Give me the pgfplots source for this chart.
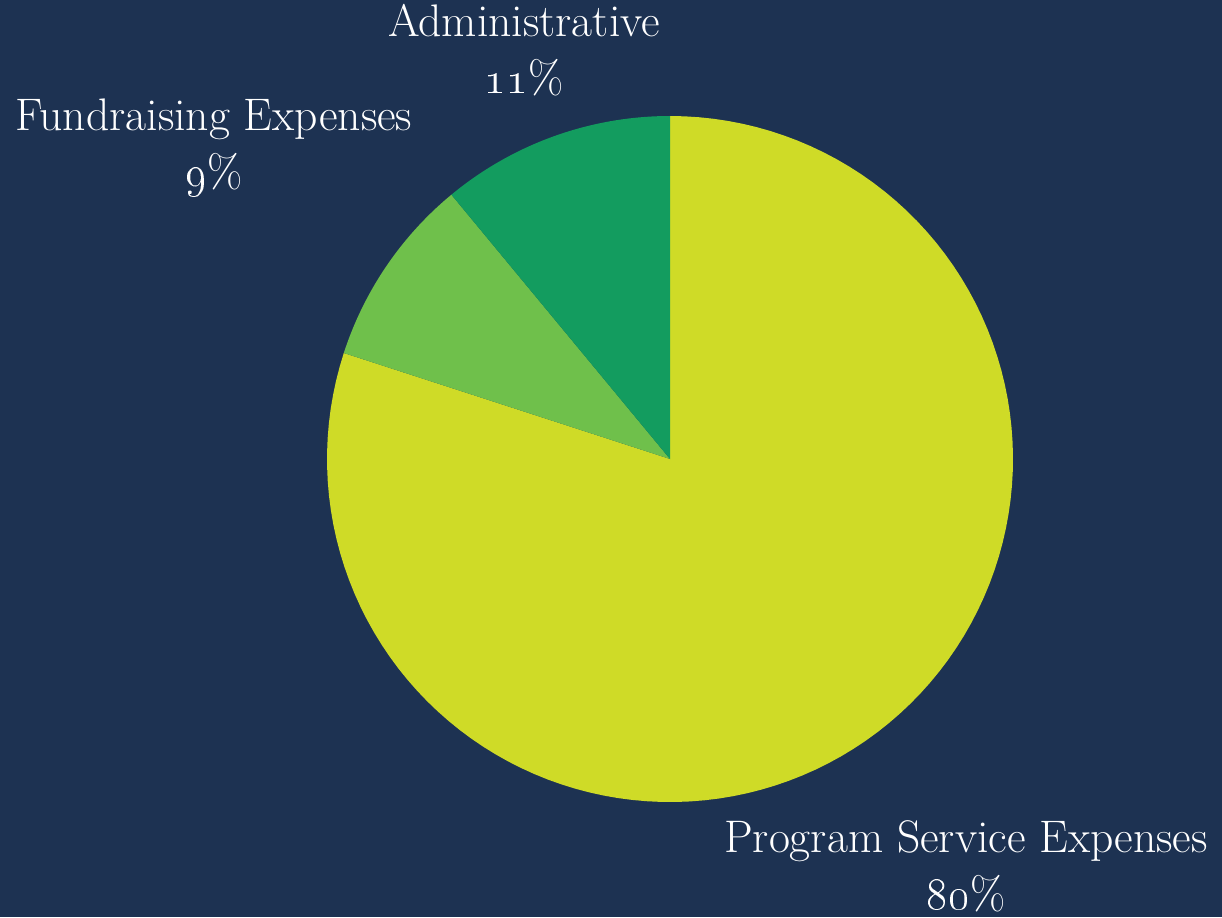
\documentclass[border=0pt]{standalone}
\usepackage{pgfplots}
\pgfplotsset{compat=1.18}

\definecolor{bgnavy}{HTML}{1D3252}
\definecolor{progcol}{HTML}{CFDB27}
\definecolor{fundcol}{HTML}{6FC04B}
\definecolor{admincol}{HTML}{139C5F}

% shares in percent
\def\vProg{80}
\def\vFund{9}
\def\vAdmin{11}

\begin{document}
\begin{tikzpicture}
	\fill[bgnavy] (0,0) rectangle (16cm,12.007cm);
	\begin{axis}[
		at={(0,0)}, anchor=south west,
		scale only axis,
		width=16cm, height=12.007cm,
		xmin=0, xmax=1222, ymin=0, ymax=917,
		hide axis,
		clip=false,
		samples=120,
	]
		% slices run clockwise from the top
		\addplot[fill=progcol, draw=none, domain={90-3.6*\vProg}:90]
			({670+343*cos(x)},{458+343*sin(x)}) -- (axis cs:670,458) -- cycle;
		\addplot[fill=fundcol, draw=none, domain={90-3.6*(\vProg+\vFund)}:{90-3.6*\vProg}]
			({670+343*cos(x)},{458+343*sin(x)}) -- (axis cs:670,458) -- cycle;
		\addplot[fill=admincol, draw=none, domain={90-3.6*(\vProg+\vFund+\vAdmin)}:{90-3.6*(\vProg+\vFund)}]
			({670+343*cos(x)},{458+343*sin(x)}) -- (axis cs:670,458) -- cycle;

		\tikzset{lbl/.style={text=white, align=center, inner sep=0pt,
			font=\fontsize{17}{21.2}\selectfont}}
		\node[lbl] at (axis cs:524,867) {Administrative\\\oldstylenums{11}\%};
		\node[lbl] at (axis cs:214,769) {Fundraising Expenses\\\oldstylenums{9}\%};
		\node[lbl] at (axis cs:966,51) {Program Service Expenses\\\oldstylenums{80}\%};
	\end{axis}
	\pgfresetboundingbox
	\path[use as bounding box] (0,0) rectangle (16cm,12.007cm);
\end{tikzpicture}
\end{document}
